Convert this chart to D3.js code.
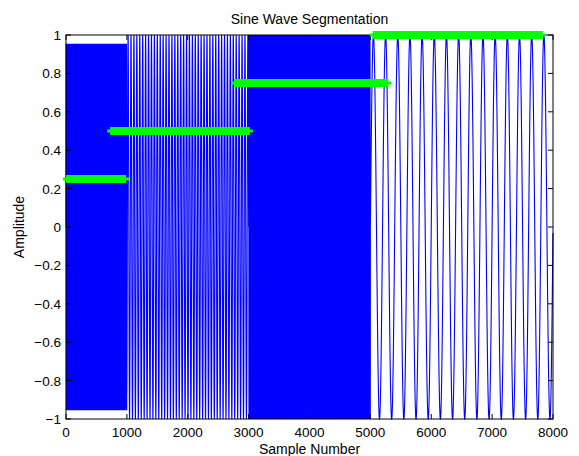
<!DOCTYPE html>
<html>
<head>
<meta charset="utf-8">
<script src="https://cdn.jsdelivr.net/npm/d3@7"></script>
<style>
  body { margin: 0; background: #fff; }
  svg { display: block; }
  text { font-family: "Liberation Sans", Arial, sans-serif; fill: #000; }
</style>
</head>
<body>
<div id="chart"></div>
<script>
// Segments of the sine wave (sample ranges and frequency in cycles/sample)
const segStart = [0, 1000, 3000, 5000];
const segEnd = [1000, 3000, 5000, 8000];
const segFreq = [0.1, 1 / 48, 1 / 8, 0.005];

// Green segmentation bars: level and sample range
const barLevel = [0.25, 0.5, 0.75, 1];
const barStart = [0, 725, 2760, 5040];
const barEnd = [985, 3020, 5295, 7830];

const xTicks = [0, 1000, 2000, 3000, 4000, 5000, 6000, 7000, 8000];
const yTicks = [-1, -0.8, -0.6, -0.4, -0.2, 0, 0.2, 0.4, 0.6, 0.8, 1];

const width = 579, height = 456;
const margin = { top: 35, right: 26, bottom: 37, left: 66 };

const svg = d3.select('#chart').append('svg')
    .attr('width', width)
    .attr('height', height);

const x = d3.scaleLinear().domain([0, 8000]).range([margin.left, width - margin.right]);
const y = d3.scaleLinear().domain([-1, 1]).range([height - margin.bottom, margin.top]);

// build samples for each segment
const samples = [];
segStart.forEach((s, i) => {
    for (let n = s; n < segEnd[i]; n++) {
        samples.push([n, Math.sin(2 * Math.PI * segFreq[i] * n)]);
    }
});

const line = d3.line().x(d => x(d[0])).y(d => y(d[1]));

svg.append('path')
    .datum(samples)
    .attr('fill', 'none')
    .attr('stroke', '#0000ff')
    .attr('stroke-width', 1.1)
    .attr('d', line);

// axes box with inward ticks
const tickLen = 5;
const axisG = svg.append('g');

axisG.append('rect')
    .attr('x', x(0)).attr('y', y(1))
    .attr('width', x(8000) - x(0)).attr('height', y(-1) - y(1))
    .attr('fill', 'none').attr('stroke', '#000').attr('stroke-width', 1);

xTicks.forEach(t => {
    axisG.append('line').attr('x1', x(t)).attr('x2', x(t))
        .attr('y1', y(-1)).attr('y2', y(-1) - tickLen).attr('stroke', '#000');
    axisG.append('line').attr('x1', x(t)).attr('x2', x(t))
        .attr('y1', y(1)).attr('y2', y(1) + tickLen).attr('stroke', '#000');
    axisG.append('text').attr('x', x(t)).attr('y', y(-1) + 18)
        .attr('text-anchor', 'middle').style('font-size', '13.5px').text(t);
});

yTicks.forEach(t => {
    axisG.append('line').attr('x1', x(0)).attr('x2', x(0) + tickLen)
        .attr('y1', y(t)).attr('y2', y(t)).attr('stroke', '#000');
    axisG.append('line').attr('x1', x(8000)).attr('x2', x(8000) - tickLen)
        .attr('y1', y(t)).attr('y2', y(t)).attr('stroke', '#000');
    axisG.append('text').attr('x', x(0) - 5).attr('y', y(t) + 5)
        .attr('text-anchor', 'end').style('font-size', '13.5px')
        .text(String(t).replace('-', '\u2212'));
});

// green segmentation bars (dense markers: thick band + thin arm at each end)
barLevel.forEach((lv, i) => {
    const g = svg.append('g').attr('stroke', '#00ff00');
    g.append('line')
        .attr('x1', x(barStart[i])).attr('x2', x(barEnd[i]))
        .attr('y1', y(lv)).attr('y2', y(lv))
        .attr('stroke-width', 8);
    g.append('line')
        .attr('x1', x(barStart[i]) - 3).attr('x2', x(barEnd[i]) + 3)
        .attr('y1', y(lv)).attr('y2', y(lv))
        .attr('stroke-width', 3);
});

// labels
svg.append('text').attr('x', (x(0) + x(8000)) / 2).attr('y', 24)
    .attr('text-anchor', 'middle').style('font-size', '14px').text('Sine Wave Segmentation');

svg.append('text').attr('x', (x(0) + x(8000)) / 2).attr('y', 454)
    .attr('text-anchor', 'middle').style('font-size', '14px').text('Sample Number');

svg.append('text')
    .attr('transform', `translate(24, ${(y(1) + y(-1)) / 2}) rotate(-90)`)
    .attr('text-anchor', 'middle').style('font-size', '14px').text('Amplitude');
</script>
</body>
</html>
